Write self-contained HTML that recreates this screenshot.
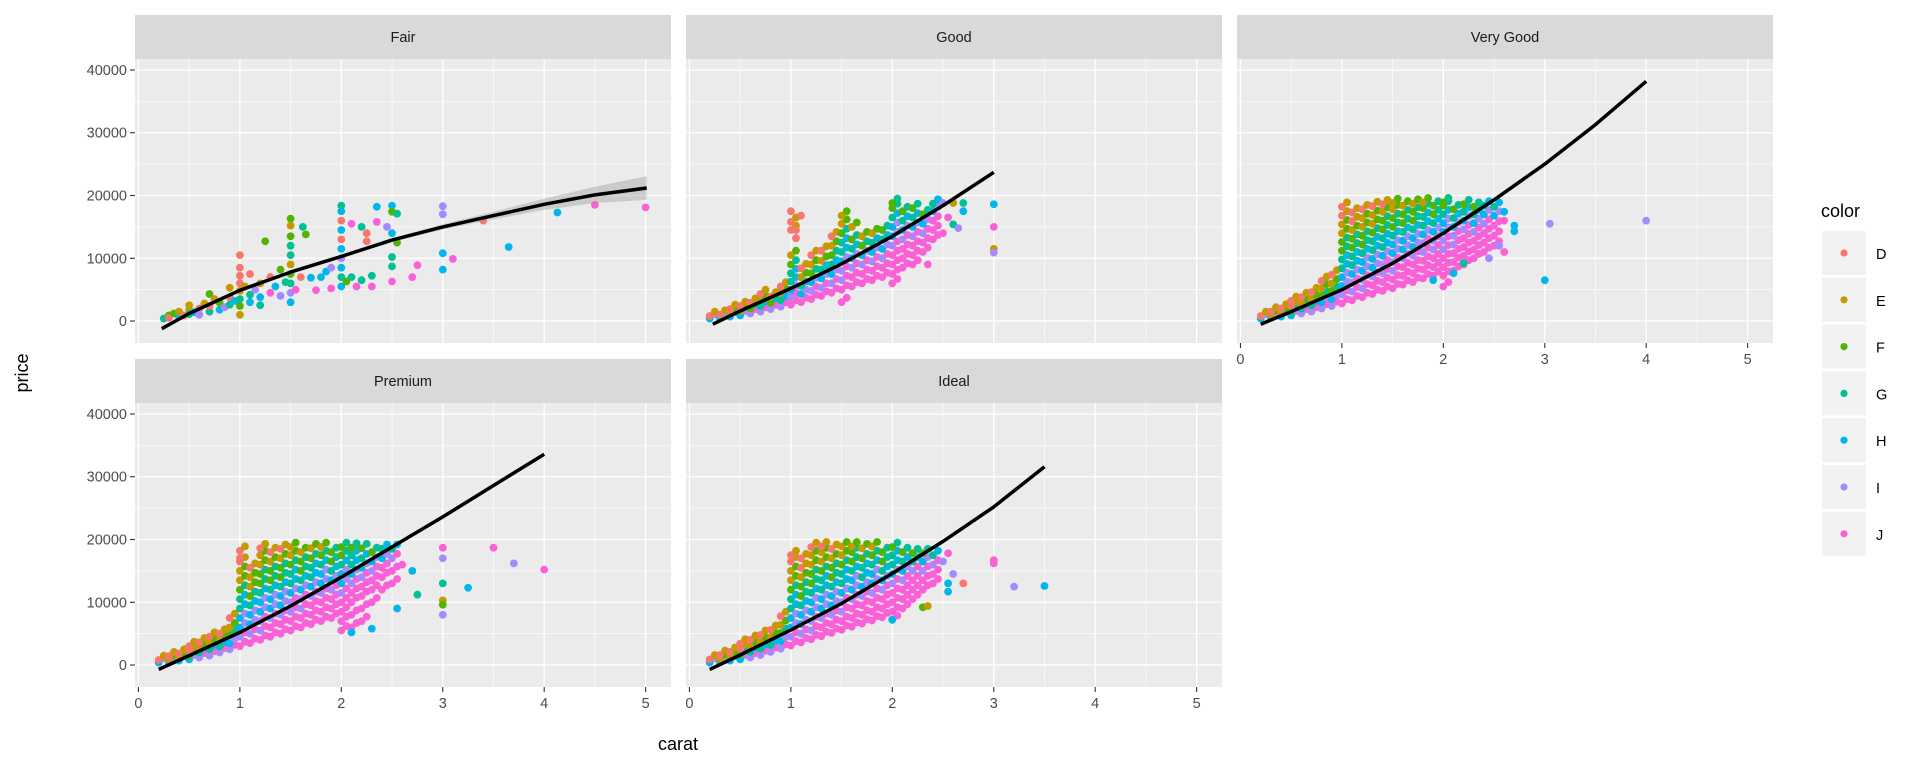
<!DOCTYPE html>
<html><head><meta charset="utf-8"><style>
html,body{margin:0;padding:0;background:#fff;}
svg{display:block;font-family:"Liberation Sans",Arial,sans-serif;}
</style></head><body>
<svg id="chart" width="1920" height="768" viewBox="0 0 1920 768"></svg>
<script>
// ---- data (prices in thousands) ----
const colorNames=["D","E","F","G","H","I","J"];
const colorHex=["#F8766D","#C49A00","#53B400","#00C094","#00B6EB","#A58AFF","#FB61D7"];
const panelNames=["Fair","Good","Very Good","Premium","Ideal"];
const xTicks=[0,1,2,3,4,5];
const yTicks=[0,10000,20000,30000,40000];
const yTickLabels=["0","10000","20000","30000","40000"];

// smooth curves: carat / price(k)
const fairSmoothX=[0.23,0.5,1,1.5,2,2.5,3,3.5,4,4.5,5.01];
const fairSmoothY=[-1.2,1.2,4.9,7.8,10.3,12.9,15,16.8,18.6,20.1,21.2];
const fairSmoothSE=[0.4,0.2,0.15,0.2,0.25,0.3,0.4,0.6,0.9,1.3,1.9];
const goodSmoothX=[0.23,0.5,1,1.5,2,2.5,3.0];
const goodSmoothY=[-0.5,1.6,5.2,9.1,13.5,18.4,23.7];
const vgSmoothX=[0.2,0.5,1,1.5,2,2.5,3,3.5,4];
const vgSmoothY=[-0.5,1.5,5.0,9.2,14.0,19.3,25.0,31.3,38.2];
const premSmoothX=[0.2,0.5,1,1.5,2,2.5,3,3.5,4];
const premSmoothY=[-0.7,1.5,5.2,9.4,14.0,18.8,23.6,28.6,33.6];
const idealSmoothX=[0.2,0.5,1,1.5,2,2.5,3,3.5];
const idealSmoothY=[-0.7,1.6,5.6,9.8,14.6,19.7,25.2,31.6];

// Fair points: carat, price(k), colour index
const fairPts=[[0.25,0.4,3],[0.3,0.9,2],[0.3,0.5,0],[0.35,1.2,2],[0.4,0.7,4],[0.4,1.5,1],[0.45,0.9,0],[0.5,1.8,1],[0.5,1.1,3],[0.5,2.5,1],[0.55,1.4,4],[0.6,2.0,0],[0.6,1.0,5],[0.65,2.8,1],[0.7,1.5,3],[0.7,4.3,2],[0.7,2.4,0],[0.75,3.5,1],[0.8,1.8,4],[0.8,2.9,2],[0.85,2.2,5],[0.9,3.8,0],[0.9,2.6,3],[0.9,5.3,1],[0.95,3.2,4],[1.0,1.0,1],[1.0,2.4,2],[1.0,3.5,3],[1.0,4.8,1],[1.0,6.0,0],[1.0,7.2,0],[1.0,8.5,0],[1.0,10.5,0],[1.05,5.5,1],[1.1,3.0,4],[1.1,4.2,3],[1.1,7.5,0],[1.15,5.0,5],[1.2,2.5,3],[1.2,6.0,1],[1.2,3.8,4],[1.25,12.7,2],[1.3,4.5,6],[1.3,7.0,0],[1.35,5.5,4],[1.4,4.0,5],[1.4,8.2,2],[1.45,6.2,3],[1.5,3.0,4],[1.5,4.5,5],[1.5,6.0,3],[1.5,7.5,2],[1.5,9.0,1],[1.5,10.5,3],[1.5,12.0,3],[1.5,13.5,2],[1.5,15.2,1],[1.5,16.3,2],[1.55,5.0,6],[1.6,7.0,0],[1.62,15,3],[1.65,13.8,2],[1.7,6.9,4],[1.75,4.9,6],[1.8,7.0,4],[1.85,7.9,4],[1.9,5.2,6],[1.9,8.5,5],[2.0,5.5,4],[2.0,7.0,3],[2.0,8.5,4],[2.0,10,5],[2.0,11.5,4],[2.0,13,0],[2.0,14.5,4],[2.0,16,0],[2.0,17.5,4],[2.0,18.4,3],[2.05,6.3,2],[2.1,7.0,3],[2.1,15.5,6],[2.15,5.5,6],[2.2,6.5,3],[2.2,15,3],[2.25,14,0],[2.25,12.7,0],[2.3,7.2,3],[2.3,5.5,6],[2.35,18.2,4],[2.35,15.8,6],[2.45,15,5],[2.5,18.4,4],[2.5,17.4,2],[2.55,17.1,3],[2.5,14,4],[2.55,12.5,2],[2.5,10.2,3],[2.5,8.7,3],[2.5,6.3,6],[2.7,7.0,6],[2.75,8.9,6],[3.0,18.3,5],[3.0,17.0,5],[3.0,10.8,4],[3.0,8.2,4],[3.1,9.9,6],[3.4,16.0,0],[3.65,11.8,4],[4.13,17.3,4],[4.5,18.5,6],[5.0,18.1,6]];

// Dense panels: column carats and price lists (k)
const goodCarats=[0.2,0.3,0.4,0.5,0.6,0.7,0.8,0.9,1.0,1.1,1.2,1.3,1.4,1.5,1.6,1.7,1.8,1.9,2.0,2.1,2.2,2.3,2.4];
const goodPrices=[[0.4,0.8],[0.5,1.0],[0.7,1.3,1.9],[0.9,1.6,2.4],[1.2,2.0,2.9],[1.5,2.4,3.4,4.3],[1.9,2.9,3.9],[2.3,3.3,4.5,5.5],[2.6,3.8,5.0,6.3,7.6,9,10.5,14.5,15.8],[3.0,4.3,5.6,7.0,8.4],[3.5,4.8,6.2,7.6,9.0,10.5],[4.0,5.3,6.8,8.2,9.6,11.2],[4.5,6.0,7.5,9.0,10.5,12,13.5],[3.0,5.0,6.5,8.0,9.5,11,12.5,14,15.5,16.8],[5.5,7.0,8.5,10,11.5,13,15],[6.0,7.5,9.0,10.5,12,13.5],[6.5,8.0,9.5,11,12.5,14],[7.0,8.5,10,11.5,13,14.5],[6.0,7.5,9.0,10.5,12,13.5,15,16.5,18,18.8],[8.5,10,11.5,13,14.5,16,17.5],[9.0,10.5,12,13.5,15,16.5,18],[11,12.5,14,15.5,17],[13,14.5,16,17.5,18.7]];
const goodOut=[[2.5,18.8,5],[2.6,18.8,1],[2.7,18.8,3],[2.55,16.5,6],[2.6,15.4,3],[2.7,17.5,4],[2.65,14.8,5],[2.5,14.0,6],[2.35,9.0,6],[3.0,18.6,4],[3.0,15.0,6],[3.0,11.5,1],[3.0,10.9,5],[1.05,13.2,0],[1.05,14.5,0],[1.1,16.8,0],[1.0,17.5,0]];

const vgCarats=[0.2,0.3,0.4,0.5,0.6,0.7,0.8,0.9,1.0,1.1,1.2,1.3,1.4,1.5,1.6,1.7,1.8,1.9,2.0,2.1,2.2,2.3,2.4,2.5];
const vgPrices=[[0.4,0.8],[0.5,1.0,1.5],[0.7,1.3,2.0],[0.9,1.6,2.4,3.2],[1.2,2.0,2.9,3.8],[1.5,2.5,3.5,4.6],[2.0,3.0,4.0,5.2,6.4],[2.4,3.5,4.8,6.0,7.4],[2.8,4.2,5.6,7.0,8.4,9.8,11.2,12.6,14,15.4,16.8,18.2],[3.3,4.7,6.1,7.5,8.9,10.3,11.7,13.1,14.5,15.9,17.3],[3.8,5.2,6.6,8.0,9.4,10.8,12.2,13.6,15,16.4,17.8],[4.3,5.7,7.1,8.5,9.9,11.3,12.7,14.1,15.5,16.9,18.3],[4.8,6.2,7.6,9.0,10.4,11.8,13.2,14.6,16,17.4,18.6],[5.2,6.6,8.0,9.4,10.8,12.2,13.6,15,16.4,17.8,18.8],[5.8,7.2,8.6,10,11.4,12.8,14.2,15.6,17,18.4],[6.2,7.6,9.0,10.4,11.8,13.2,14.6,16,17.4,18.7],[6.8,8.2,9.6,11,12.4,13.8,15.2,16.6,18,18.9],[7.2,8.6,10,11.4,12.8,14.2,15.6,17,18.4],[5.5,7.2,8.6,10,11.4,12.8,14.2,15.6,17,18.4,18.9],[8.0,9.4,10.8,12.2,13.6,15,16.4,17.8],[9.0,10.4,11.8,13.2,14.6,16,17.4,18.6],[10,11.4,12.8,14.2,15.6,17,18.2],[11,12.5,14,15.5,17,18.4],[12,13.6,15.2,16.8,18.2]];
const vgOut=[[2.6,17.4,4],[2.6,16.0,6],[2.7,15.2,4],[2.7,14.3,4],[2.55,12.0,5],[2.6,11.0,6],[2.45,10.0,5],[2.2,9.2,3],[2.1,7.6,4],[1.9,6.5,4],[3.05,15.5,5],[3.0,6.5,4],[4.0,16.0,5]];

const premCarats=[0.2,0.3,0.4,0.5,0.6,0.7,0.8,0.9,1.0,1.1,1.2,1.3,1.4,1.5,1.6,1.7,1.8,1.9,2.0,2.1,2.2,2.3,2.4,2.5];
const premPrices=[[0.4,0.8],[0.5,0.9,1.4],[0.7,1.2,1.8],[0.9,1.5,2.2,3.0],[1.2,2.0,2.8,3.6],[1.5,2.5,3.5,4.5],[2.0,3.0,4.0,5.0],[2.5,3.5,4.8,6.0,7.5],[3.0,4.5,6,7.5,9,10.5,12,13.5,15,16.5,18.2],[3.5,5,6.5,8,9.5,11,12.5,14,15.5],[4,5.5,7,8.5,10,11.5,13,14.5,16,17.5,18.6],[4.5,6,7.5,9,10.5,12,13.5,15,16.5,18],[5,6.5,8,9.5,11,12.5,14,15.5,17,18.5],[5.5,7,8.5,10,11.5,13,14.5,16,17.5,18.8],[6,7.5,9,10.5,12,13.5,15,16.5,18],[6.5,8,9.5,11,12.5,14,15.5,17,18.6],[7,8.5,10,11.5,13,14.5,16,17.5,18.8],[7.5,9,10.5,12,13.5,15,16.5,18],[5.5,7,8.5,10,11.5,13,14.5,16,17.5,18.8],[6,8,10,11.5,13,14.5,16,17.5,18.7],[7,9,11,12.5,14,15.5,17,18.6],[10,12,13.5,15,16.5,18],[12,14,15.5,17,18.5],[13,15,17,18.5]];
const premOut=[[2.6,16.0,6],[2.7,15.0,4],[2.75,11.2,3],[2.55,9.0,4],[3.0,18.7,6],[3.0,17.0,5],[3.0,13.0,3],[3.0,10.3,1],[3.0,9.6,2],[3.0,8.0,5],[3.25,12.3,4],[3.5,18.7,6],[3.7,16.2,5],[4.0,15.2,6],[2.1,5.2,4],[2.3,5.8,4],[1.0,17.0,0]];

const idealCarats=[0.2,0.3,0.4,0.5,0.6,0.7,0.8,0.9,1.0,1.1,1.2,1.3,1.4,1.5,1.6,1.7,1.8,1.9,2.0,2.1,2.2,2.3,2.4];
const idealPrices=[[0.4,0.9],[0.5,1.0,1.6],[0.7,1.4,2.1],[0.9,1.7,2.6,3.4],[1.2,2.1,3.1,4.0],[1.6,2.6,3.7,4.8],[2.1,3.2,4.4,5.6],[2.6,3.8,5.1,6.4,7.8],[3.1,4.5,6,7.5,9,10.5,12,13.5,15,16.5,17.5],[3.6,5,6.5,8,9.5,11,12.5,14,15.5,17],[4.1,5.5,7,8.5,10,11.5,13,14.5,16,17.5,18.8],[4.6,6,7.5,9,10.5,12,13.5,15,16.5,18,18.9],[5.1,6.5,8,9.5,11,12.5,14,15.5,17,18.5],[5.6,7,8.5,10,11.5,13,14.5,16,17.5,18.9],[6.1,7.5,9,10.5,12,13.5,15,16.5,18,18.9],[6.6,8,9.5,11,12.5,14,15.5,17,18.6],[7.1,8.5,10,11.5,13,14.5,16,17.5,18.9],[7.6,9,10.5,12,13.5,15,16.5,18],[7.2,8.5,10,11.5,13,14.5,16,17.5,18.8],[9,10.5,12,13.5,15,16.5,18],[10.5,12,13.5,15,16.5,17.8],[12,13.5,15,16.5,17.8],[13,14.5,16,17.5]];
const idealOut=[[2.55,17.8,6],[2.5,16.5,5],[2.6,14.5,5],[2.55,13.0,4],[2.7,13.0,0],[2.55,11.7,4],[2.3,9.2,2],[2.35,9.4,1],[2.0,7.2,4],[3.0,16.7,6],[3.0,16.2,6],[3.2,12.5,5],[3.5,12.6,4]];

// ---- layout ----
const svg=document.getElementById('chart');
const NS="http://www.w3.org/2000/svg";
const colLeft=[135,686,1237], PW=536, PH=284;
const rowTop=[59,403], stripH=44;
const XMIN=-0.034,XMAX=5.25,YMIN=-3500,YMAX=41750;
function sx(c,L){return L+(c-XMIN)/(XMAX-XMIN)*PW;}
function sy(p,T){return T+(YMAX-p)/(YMAX-YMIN)*PH;}
function mk(tag,attrs,parent){const e=document.createElementNS(NS,tag);for(const k in attrs)e.setAttribute(k,attrs[k]);(parent||svg).appendChild(e);return e;}

const panelDefs=[
 {col:0,row:0,pts:fairPts,sxA:fairSmoothX,syA:fairSmoothY,se:fairSmoothSE},
 {col:1,row:0,carats:goodCarats,prices:goodPrices,out:goodOut,sxA:goodSmoothX,syA:goodSmoothY},
 {col:2,row:0,carats:vgCarats,prices:vgPrices,out:vgOut,sxA:vgSmoothX,syA:vgSmoothY},
 {col:0,row:1,carats:premCarats,prices:premPrices,out:premOut,sxA:premSmoothX,syA:premSmoothY},
 {col:1,row:1,carats:idealCarats,prices:idealPrices,out:idealOut,sxA:idealSmoothX,syA:idealSmoothY}
];

panelDefs.forEach((pd,i)=>{
  const L=colLeft[pd.col], T=rowTop[pd.row];
  const g=mk('g',{});
  
  
  const st=mk('rect',{x:L,y:T-stripH,width:PW,height:stripH,fill:'#D9D9D9'},g);
  
  
  const stt=mk('text',{x:L+PW/2,y:T-stripH/2+5,'text-anchor':'middle','font-size':'14.5',fill:'#1A1A1A'},g);
  stt.textContent=panelNames[i];
  
  
  const bg=mk('rect',{x:L,y:T,width:PW,height:PH,fill:'#EBEBEB'},g);
  
  
  for(let c=0.5;c<=5;c+=1)mk('line',{x1:sx(c,L),x2:sx(c,L),y1:T,y2:T+PH,stroke:'#fff','stroke-width':0.6},g);
  for(let p=-5000;p<=40000;p+=10000){const y=sy(p,T);if(y>T&&y<T+PH)mk('line',{x1:L,x2:L+PW,y1:y,y2:y,stroke:'#fff','stroke-width':0.6},g);}
  xTicks.forEach(c=>mk('line',{x1:sx(c,L),x2:sx(c,L),y1:T,y2:T+PH,stroke:'#fff','stroke-width':1.3},g));
  yTicks.forEach(p=>mk('line',{x1:L,x2:L+PW,y1:sy(p,T),y2:sy(p,T),stroke:'#fff','stroke-width':1.3},g));
  const R=3.9;
  function dot(c,p,ci){
    const e=mk('circle',{cx:sx(c,L).toFixed(1),cy:sy(p*1000,T).toFixed(1),r:R,fill:colorHex[ci]},g);
    
    
  }
  if(pd.pts){pd.pts.forEach(q=>dot(q[0],q[1],q[2]));}
  else{
    pd.carats.forEach((c,k)=>{
      const list=pd.prices[k], n=list.length;
      list.forEach((p,j)=>{
        let ci=Math.round(6-(n>1?j/(n-1):0.5)*6+(c-1.2)*2.2);
        ci=Math.max(0,Math.min(6,ci));
        dot(c,p,ci);
        dot(c+0.05,p+0.7,Math.min(6,ci+1));
      });
    });
    pd.out.forEach(q=>dot(q[0],q[1],q[2]));
  }
  if(pd.se){
    let d='';
    pd.sxA.forEach((c,k)=>{d+=(k?'L':'M')+sx(c,L).toFixed(1)+','+sy((pd.syA[k]+pd.se[k])*1000,T).toFixed(1);});
    for(let k=pd.sxA.length-1;k>=0;k--)d+='L'+sx(pd.sxA[k],L).toFixed(1)+','+sy((pd.syA[k]-pd.se[k])*1000,T).toFixed(1);
    const rb=mk('path',{d:d+'Z',fill:'#999','fill-opacity':0.4},g);
    
    
  }
  let d='';
  pd.sxA.forEach((c,k)=>{d+=(k?'L':'M')+sx(c,L).toFixed(1)+','+sy(pd.syA[k]*1000,T).toFixed(1);});
  const ln=mk('path',{d:d,fill:'none',stroke:'#000','stroke-width':3.5,'stroke-linejoin':'round'},g);
  
  
  if(pd.col===0){
    yTicks.forEach((p,k)=>{
      mk('line',{x1:L-5,x2:L,y1:sy(p,T),y2:sy(p,T),stroke:'#333','stroke-width':1.1},g);
      const t=mk('text',{x:L-8,y:sy(p,T)+5,'text-anchor':'end','font-size':'14.5',fill:'#4D4D4D'},g);
      t.textContent=yTickLabels[k];
      
      
    });
  }
  if(pd.row===1||pd.col===2){
    xTicks.forEach(c=>{
      mk('line',{x1:sx(c,L),x2:sx(c,L),y1:T+PH,y2:T+PH+5,stroke:'#333','stroke-width':1.1},g);
      const t=mk('text',{x:sx(c,L),y:T+PH+21,'text-anchor':'middle','font-size':'14.5',fill:'#4D4D4D'},g);
      t.textContent=String(c);
      
      
    });
  }
});

const xt=mk('text',{x:686-8,y:750,'text-anchor':'middle','font-size':'18',fill:'#000'});
xt.textContent='carat';


const yt=mk('text',{x:0,y:0,'text-anchor':'middle','font-size':'18',fill:'#000',transform:'translate(28,373) rotate(-90)'});
yt.textContent='price';



const lg=mk('g',{});


const lt=mk('text',{x:1821,y:217,'font-size':'18',fill:'#000'},lg);
lt.textContent='color';


colorNames.forEach((n,k)=>{
  const y=231+k*46.8;
  const e=mk('g',{},lg);
  
  
  mk('rect',{x:1822,y:y,width:44,height:44,fill:'#F2F2F2'},e);
  mk('circle',{cx:1844,cy:y+22,r:3.6,fill:colorHex[k]},e);
  const t=mk('text',{x:1876,y:y+28,'font-size':'14.5',fill:'#000'},e);
  t.textContent=n;
});
</script>
</body></html>
